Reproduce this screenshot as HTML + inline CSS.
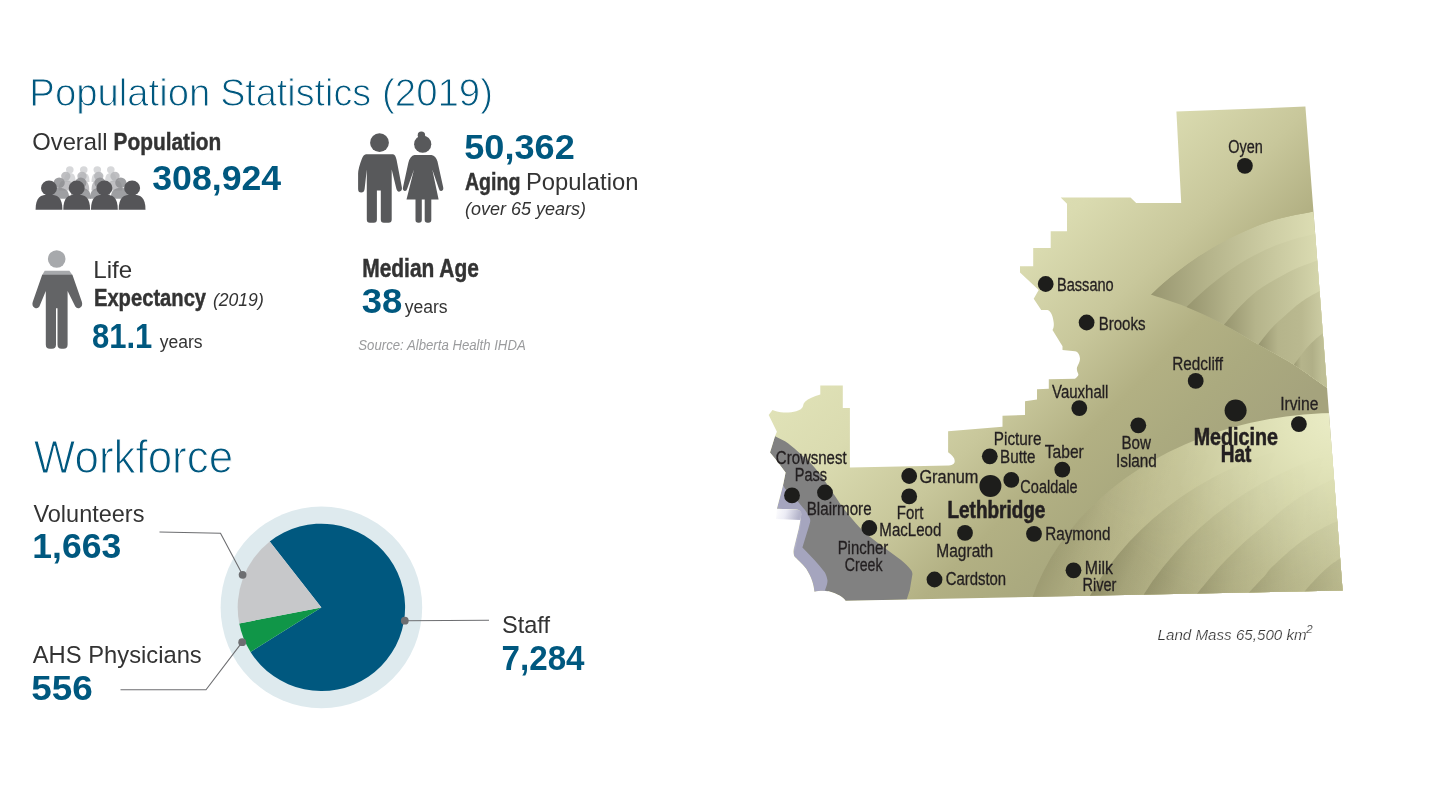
<!DOCTYPE html>
<html lang="en"><head><meta charset="utf-8"><title>South Zone - Population Statistics</title>
<style>
html,body{margin:0;padding:0;background:#fff;}
body{width:1440px;height:801px;overflow:hidden;font-family:"Liberation Sans",sans-serif;}
svg{display:block;position:absolute;left:0;top:0;}
text{font-family:"Liberation Sans",sans-serif;}
.lt{fill:#00587f;stroke:#fff;stroke-width:1px;}
.lt2{stroke-width:1.2px;}
.b{font-weight:bold;}
.i{font-style:italic;}
.num{font-weight:bold;fill:#00587f;}
.g{fill:#333333;}
.hv{stroke:#333;stroke-width:.45px;}
.src{fill:#9a9b9d;}
.map text{fill:#231f20;}
</style></head><body>
<svg width="1440" height="801" viewBox="0 0 1440 801">
<text x="29.36" y="106.3" font-size="39.5" class="lt" textLength="180.93" lengthAdjust="spacingAndGlyphs">Population</text>
<text x="220.19" y="106.3" font-size="39.5" class="lt" textLength="150.98" lengthAdjust="spacingAndGlyphs">Statistics</text>
<text x="382.02" y="106.3" font-size="39.5" class="lt" textLength="110.96" lengthAdjust="spacingAndGlyphs">(2019)</text>
<text x="32.27" y="150.1" font-size="24.5" class="g" textLength="75.32" lengthAdjust="spacingAndGlyphs">Overall</text>
<text x="113.61" y="150.1" font-size="24.8" class="g b hv" textLength="107.69" lengthAdjust="spacingAndGlyphs">Population</text>
<text x="152.28" y="190.3" font-size="35" class="num" textLength="128.91" lengthAdjust="spacingAndGlyphs">308,924</text>
<text x="464.29" y="159.3" font-size="35" class="num" textLength="110.46" lengthAdjust="spacingAndGlyphs">50,362</text>
<text x="464.91" y="190.3" font-size="24.8" class="g b hv" textLength="55.60" lengthAdjust="spacingAndGlyphs">Aging</text>
<text x="525.95" y="190.3" font-size="24.5" class="g" textLength="112.50" lengthAdjust="spacingAndGlyphs">Population</text>
<text x="464.96" y="214.5" font-size="18.3" class="g i" textLength="121.02" lengthAdjust="spacingAndGlyphs">(over 65 years)</text>
<text x="93.32" y="278.3" font-size="24.5" class="g" textLength="38.96" lengthAdjust="spacingAndGlyphs">Life</text>
<text x="93.95" y="306" font-size="24.8" class="g b hv" textLength="112.16" lengthAdjust="spacingAndGlyphs">Expectancy</text>
<text x="212.88" y="305.9" font-size="17.8" class="g i" textLength="50.87" lengthAdjust="spacingAndGlyphs">(2019)</text>
<text x="92.02" y="347.5" font-size="35" class="num" textLength="60.35" lengthAdjust="spacingAndGlyphs">81.1</text>
<text x="159.76" y="347.5" font-size="18.3" class="g" textLength="42.88" lengthAdjust="spacingAndGlyphs">years</text>
<text x="362.20" y="276.7" font-size="25" class="g b hv" textLength="116.72" lengthAdjust="spacingAndGlyphs">Median Age</text>
<text x="361.66" y="313" font-size="35" class="num" textLength="40.56" lengthAdjust="spacingAndGlyphs">38</text>
<text x="404.66" y="313" font-size="18.3" class="g" textLength="42.98" lengthAdjust="spacingAndGlyphs">years</text>
<text x="358.33" y="349.5" font-size="14.7" class="i src" textLength="167.38" lengthAdjust="spacingAndGlyphs">Source: Alberta Health IHDA</text>
<text x="33.81" y="472.8" font-size="46.3" class="lt lt2" textLength="199.34" lengthAdjust="spacingAndGlyphs">Workforce</text>
<text x="33.40" y="521.8" font-size="24.5" class="g" textLength="111.05" lengthAdjust="spacingAndGlyphs">Volunteers</text>
<text x="32.36" y="557.7" font-size="35" class="num" textLength="88.92" lengthAdjust="spacingAndGlyphs">1,663</text>
<text x="32.75" y="662.9" font-size="24.5" class="g" textLength="169.00" lengthAdjust="spacingAndGlyphs">AHS Physicians</text>
<text x="31.26" y="699.5" font-size="35" class="num" textLength="61.57" lengthAdjust="spacingAndGlyphs">556</text>
<text x="501.93" y="633.1" font-size="24.5" class="g" textLength="48.04" lengthAdjust="spacingAndGlyphs">Staff</text>
<text x="501.57" y="670.3" font-size="35" class="num" textLength="83.00" lengthAdjust="spacingAndGlyphs">7,284</text>
<circle cx="321.4" cy="607.4" r="100.8" fill="#deeaee"/>
<path d="M321.40,607.40 L269.75,541.53 A83.7,83.7 0 1 1 250.54,651.95 Z" fill="#00587f"/>
<path d="M321.40,607.40 L250.54,651.95 A83.7,83.7 0 0 1 239.27,623.51 Z" fill="#109648"/>
<path d="M321.40,607.40 L239.27,623.51 A83.7,83.7 0 0 1 269.75,541.53 Z" fill="#c7c8ca"/>
<g fill="none" stroke="#6d6e71" stroke-width="1.1"><path d="M159.5,532 L220.5,533.2 L242.6,574.8"/><path d="M120.5,689.8 L206,689.8 L242.2,642.2"/><path d="M404.8,620.7 L489,620.3"/></g>
<g fill="#6d6e71"><circle cx="242.6" cy="574.8" r="3.9"/><circle cx="242.2" cy="642.2" r="3.9"/><circle cx="404.8" cy="620.7" r="3.9"/></g>
<g fill="#58595b"><circle cx="379.5" cy="142.7" r="9.4"/><path d="M366,154.2 H393 Q395.5,154.5 396.6,160 L401.9,187.5 Q402.3,191 399.6,191.6 Q397,192 396.3,188.5 L391.7,169.6 V219.5 Q391.7,222.8 388.6,222.8 H383.9 Q380.8,222.8 380.8,219.5 V190.5 H376.9 V219.5 Q376.9,222.8 373.8,222.8 H369.9 Q366.8,222.8 366.8,219.5 V169.6 L364.6,189 Q364.2,192.6 361.2,192.6 Q358.1,192.6 358.1,189 V173.5 Q358.3,168 361.8,159 Q363.5,154.5 366,154.2 Z"/><circle cx="422.7" cy="144.2" r="8.6"/><circle cx="421.4" cy="135.3" r="3.7"/><path d="M414.5,155.1 H431.5 Q435.8,156 437.5,161.5 L443.2,187.3 Q443.8,190.6 441.4,191 Q439.4,191.3 438.9,188.8 L432.3,169.5 L438.6,199.5 H431.3 V220 Q431.3,222.8 428.5,222.8 H427.5 Q424.7,222.8 424.7,220 V199.5 H421.8 V220 Q421.8,222.8 419,222.8 H418.3 Q415.5,222.8 415.5,220 V199.5 H406.5 L414,169.5 L407.2,188.8 Q406.6,191.3 404.6,191 Q402.4,190.6 403,187.3 L408.3,163 Q410,156 414.5,155.1 Z"/></g>
<circle cx="56.7" cy="259" r="8.8" fill="#a7a9ac"/><path d="M44.7,270.7 H69.4 L72.4,274.9 H42.2 Z" fill="#a7a9ac"/><path d="M42.2,274.8 H72.4 L81.9,302 Q83,306 80,307.8 Q77,309.3 75.3,306.5 L67.6,290.9 V344.5 Q67.6,348.8 63.5,348.8 H61.5 Q57.5,348.8 57.5,344.5 V308.2 H56 V344.5 Q56,348.8 52,348.8 H49.8 Q45.8,348.8 45.8,344.5 V290.9 L39.4,306.5 Q37.6,309.3 34.6,307.8 Q31.6,306 32.7,302 Z" fill="#636466"/>
<g fill="#d3d4d6" opacity="0.9"><ellipse cx="69.80" cy="169.80" rx="3.80" ry="3.53"/><path d="M64.05,182.00 C64.05,174.80 66.12,173.00 69.80,173.00 C73.48,173.00 75.55,174.80 75.55,182.00 Z"/></g><g fill="#d3d4d6" opacity="0.9"><ellipse cx="83.75" cy="169.80" rx="3.80" ry="3.53"/><path d="M78.00,182.00 C78.00,174.80 80.07,173.00 83.75,173.00 C87.43,173.00 89.50,174.80 89.50,182.00 Z"/></g><g fill="#d3d4d6" opacity="0.9"><ellipse cx="97.30" cy="169.80" rx="3.80" ry="3.53"/><path d="M91.55,182.00 C91.55,174.80 93.62,173.00 97.30,173.00 C100.98,173.00 103.05,174.80 103.05,182.00 Z"/></g><g fill="#d3d4d6" opacity="0.9"><ellipse cx="110.80" cy="169.80" rx="3.80" ry="3.53"/><path d="M105.05,182.00 C105.05,174.80 107.12,173.00 110.80,173.00 C114.48,173.00 116.55,174.80 116.55,182.00 Z"/></g><g fill="#b4b5b8" opacity="0.85"><ellipse cx="65.80" cy="176.10" rx="4.70" ry="4.37"/><path d="M58.55,190.50 C58.55,182.34 61.16,180.30 65.80,180.30 C70.44,180.30 73.05,182.34 73.05,190.50 Z"/></g><g fill="#b4b5b8" opacity="0.85"><ellipse cx="82.00" cy="176.10" rx="4.70" ry="4.37"/><path d="M74.75,190.50 C74.75,182.34 77.36,180.30 82.00,180.30 C86.64,180.30 89.25,182.34 89.25,190.50 Z"/></g><g fill="#b4b5b8" opacity="0.85"><ellipse cx="98.75" cy="176.10" rx="4.70" ry="4.37"/><path d="M91.50,190.50 C91.50,182.34 94.11,180.30 98.75,180.30 C103.39,180.30 106.00,182.34 106.00,190.50 Z"/></g><g fill="#b4b5b8" opacity="0.85"><ellipse cx="115.00" cy="176.10" rx="4.70" ry="4.37"/><path d="M107.75,190.50 C107.75,182.34 110.36,180.30 115.00,180.30 C119.64,180.30 122.25,182.34 122.25,190.50 Z"/></g><g fill="#8e8f92" opacity="0.85"><ellipse cx="59.20" cy="182.80" rx="5.60" ry="5.21"/><path d="M49.20,198.80 C49.20,190.16 52.80,188.00 59.20,188.00 C65.60,188.00 69.20,190.16 69.20,198.80 Z"/></g><g fill="#8e8f92" opacity="0.85"><ellipse cx="80.80" cy="182.80" rx="5.60" ry="5.21"/><path d="M70.80,198.80 C70.80,190.16 74.40,188.00 80.80,188.00 C87.20,188.00 90.80,190.16 90.80,198.80 Z"/></g><g fill="#8e8f92" opacity="0.85"><ellipse cx="100.00" cy="182.80" rx="5.60" ry="5.21"/><path d="M90.00,198.80 C90.00,190.16 93.60,188.00 100.00,188.00 C106.40,188.00 110.00,190.16 110.00,198.80 Z"/></g><g fill="#8e8f92" opacity="0.85"><ellipse cx="120.80" cy="182.80" rx="5.60" ry="5.21"/><path d="M110.80,198.80 C110.80,190.16 114.40,188.00 120.80,188.00 C127.20,188.00 130.80,190.16 130.80,198.80 Z"/></g><g fill="#555558" opacity="1"><ellipse cx="49.00" cy="187.90" rx="8.00" ry="7.44"/><path d="M35.60,209.80 C35.60,197.64 40.42,194.60 49.00,194.60 C57.58,194.60 62.40,197.64 62.40,209.80 Z"/></g><g fill="#555558" opacity="1"><ellipse cx="76.70" cy="187.90" rx="8.00" ry="7.44"/><path d="M63.30,209.80 C63.30,197.64 68.12,194.60 76.70,194.60 C85.28,194.60 90.10,197.64 90.10,209.80 Z"/></g><g fill="#555558" opacity="1"><ellipse cx="104.40" cy="187.90" rx="8.00" ry="7.44"/><path d="M91.00,209.80 C91.00,197.64 95.82,194.60 104.40,194.60 C112.98,194.60 117.80,197.64 117.80,209.80 Z"/></g><g fill="#555558" opacity="1"><ellipse cx="132.10" cy="187.90" rx="8.00" ry="7.44"/><path d="M118.70,209.80 C118.70,197.64 123.52,194.60 132.10,194.60 C140.68,194.60 145.50,197.64 145.50,209.80 Z"/></g>
<defs>
<clipPath id="mc"><path d="M1176.4,111.6 L1305.4,106.6 L1342.6,590.6 L845.6,600.8 C843,597 838,594 828.7,591.3 C823,590.3 818,590.8 814.4,591.8 C813.8,585 812,578 806.2,568.7 C802,563 796,558.5 794.3,556.2 C793.3,553 793.5,551 793.7,548.7 L798.7,528.7 C799.8,523 800.8,517.5 801.2,514 C800.8,511 799,509.6 796,509.5 L776.9,508.7 L783.1,485 L785.6,472.5 L776.2,460 L770,452.4 L775,436.2 L776.9,431.8 L768.7,415 L772.5,410 C776,411.5 780,412.4 783.7,412.5 C789,412.6 793,412.2 796.2,411.2 C800,410 802.3,408.5 803,406.2 C803.4,404 804,403 805,401.8 C808.5,398.5 813.5,396.2 820.3,394.4 L820.3,385.6 L842.8,385.6 L842.8,408.1 L849.9,408.1 L849.9,467.6 L949,465.4 C953,465.1 954.7,463.5 954.7,461 C954.7,458 952.5,455.5 948.1,452.2 L948.1,431.2 L1002.5,426.8 L1002.5,415.8 L1025,415 L1025,401.2 L1037,399.5 L1037,389.2 L1048.8,388.7 L1048.8,379.2 L1075,378.7 C1078,376.5 1078.8,375 1078.2,373.7 C1077,371.5 1076.6,369.5 1077,367.5 C1078,364.5 1080,362 1080,358.7 C1079.8,354.5 1078,351.8 1075,351.2 L1062.5,350 L1062.5,346.2 L1052.5,330 C1053.8,328 1054,325 1053.7,322.5 C1053,316 1051,311 1047.5,310 L1041.2,310 L1033.7,298.7 L1038.7,290 L1020,272.5 L1020,266.2 L1033.2,266.2 L1033.2,248 L1050.7,248 L1050.7,231.2 L1067,231.2 L1067,203.7 L1060.7,197.5 L1130.5,197.5 L1136.2,203 L1181.2,203 Z"/></clipPath>
<clipPath id="uc"><path d="M1150.8,294.5 C1153.6,291.9 1160.3,285.2 1167.8,279.2 C1175.3,273.2 1186.3,264.6 1195.6,258.3 C1204.8,252.1 1214.0,246.7 1223.3,241.7 C1232.5,236.7 1241.8,232.3 1251.1,228.5 C1260.4,224.7 1268.7,221.5 1278.9,218.8 C1289.1,216.0 1303.7,213.5 1312.2,211.8 C1320.7,210.1 1327.0,209.3 1330.0,208.8 L1345,401 C1342.0,398.8 1335.3,393.7 1326.8,387.6 C1318.3,381.6 1305.3,371.9 1293.9,364.7 C1282.5,357.5 1270.0,351.3 1258.3,344.6 C1246.6,337.9 1236.0,331.0 1224.0,324.7 C1212.0,318.4 1198.7,312.0 1186.5,307.0 C1174.3,302.0 1156.8,296.6 1150.8,294.5 Z"/></clipPath>
<linearGradient id="bg" gradientUnits="userSpaceOnUse" x1="800" y1="380" x2="1062.5" y2="642.5"><stop offset="0" stop-color="#e0e2b7"/><stop offset=".2" stop-color="#dadbb0"/><stop offset=".45" stop-color="#c8c79b"/><stop offset=".65" stop-color="#b2b083"/><stop offset=".8" stop-color="#abaa7f"/><stop offset="1" stop-color="#a5a37d"/></linearGradient>
<linearGradient id="ug1" gradientUnits="userSpaceOnUse" x1="1146.8" y1="0" x2="1322.0" y2="0"><stop offset="0" stop-color="#96946e"/><stop offset=".35" stop-color="#b5b48b"/><stop offset=".7" stop-color="#cdcda4"/><stop offset="1" stop-color="#dedfb5"/></linearGradient>
<linearGradient id="ug2" gradientUnits="userSpaceOnUse" x1="1182.5" y1="0" x2="1322.0" y2="0"><stop offset="0" stop-color="#94926c"/><stop offset=".35" stop-color="#b5b48b"/><stop offset=".7" stop-color="#cbcba2"/><stop offset="1" stop-color="#dcddb3"/></linearGradient>
<linearGradient id="ug3" gradientUnits="userSpaceOnUse" x1="1220.0" y1="0" x2="1322.0" y2="0"><stop offset="0" stop-color="#93916b"/><stop offset=".35" stop-color="#b5b48b"/><stop offset=".7" stop-color="#c5c59c"/><stop offset="1" stop-color="#d6d7ad"/></linearGradient>
<linearGradient id="ug4" gradientUnits="userSpaceOnUse" x1="1254.3" y1="0" x2="1322.0" y2="0"><stop offset="0" stop-color="#908e69"/><stop offset=".35" stop-color="#b5b48b"/><stop offset=".7" stop-color="#bab990"/><stop offset="1" stop-color="#cbcba2"/></linearGradient>
<linearGradient id="ug5" gradientUnits="userSpaceOnUse" x1="1289.9" y1="0" x2="1322.0" y2="0"><stop offset="0" stop-color="#8d8b66"/><stop offset=".35" stop-color="#b5b48b"/><stop offset=".7" stop-color="#b0af87"/><stop offset="1" stop-color="#bfbf96"/></linearGradient>
<radialGradient id="lbase" gradientUnits="userSpaceOnUse" cx="1335" cy="415" r="320"><stop offset="0" stop-color="#eaecc6"/><stop offset=".16" stop-color="#e2e4ba"/><stop offset=".33" stop-color="#d6d7ac"/><stop offset=".53" stop-color="#c8c79a"/><stop offset=".73" stop-color="#c1bf92"/><stop offset="1" stop-color="#bab88b"/></radialGradient>
<linearGradient id="lg1" gradientUnits="userSpaceOnUse" x1="1032.0" y1="595.9" x2="1214.4" y2="678.0"><stop offset="0" stop-color="#3c3a1e" stop-opacity="0.22"/><stop offset=".14" stop-color="#3c3a1e" stop-opacity="0.12"/><stop offset=".36" stop-color="#3c3a1e" stop-opacity="0.04"/><stop offset=".6" stop-color="#3c3a1e" stop-opacity="0"/></linearGradient>
<linearGradient id="lg2" gradientUnits="userSpaceOnUse" x1="1088.7" y1="595.1" x2="1271.1" y2="677.2"><stop offset="0" stop-color="#3c3a1e" stop-opacity="0.34"/><stop offset=".14" stop-color="#3c3a1e" stop-opacity="0.19"/><stop offset=".36" stop-color="#3c3a1e" stop-opacity="0.06"/><stop offset=".6" stop-color="#3c3a1e" stop-opacity="0"/></linearGradient>
<linearGradient id="lg3" gradientUnits="userSpaceOnUse" x1="1142.5" y1="595.1" x2="1324.9" y2="677.2"><stop offset="0" stop-color="#3c3a1e" stop-opacity="0.32"/><stop offset=".14" stop-color="#3c3a1e" stop-opacity="0.18"/><stop offset=".36" stop-color="#3c3a1e" stop-opacity="0.06"/><stop offset=".6" stop-color="#3c3a1e" stop-opacity="0"/></linearGradient>
<linearGradient id="lg4" gradientUnits="userSpaceOnUse" x1="1196.5" y1="594.4" x2="1378.9" y2="676.5"><stop offset="0" stop-color="#3c3a1e" stop-opacity="0.30"/><stop offset=".14" stop-color="#3c3a1e" stop-opacity="0.17"/><stop offset=".36" stop-color="#3c3a1e" stop-opacity="0.05"/><stop offset=".6" stop-color="#3c3a1e" stop-opacity="0"/></linearGradient>
<linearGradient id="lg5" gradientUnits="userSpaceOnUse" x1="1248.9" y1="592.7" x2="1431.3" y2="674.8"><stop offset="0" stop-color="#3c3a1e" stop-opacity="0.30"/><stop offset=".14" stop-color="#3c3a1e" stop-opacity="0.17"/><stop offset=".36" stop-color="#3c3a1e" stop-opacity="0.05"/><stop offset=".6" stop-color="#3c3a1e" stop-opacity="0"/></linearGradient>
<linearGradient id="lg6" gradientUnits="userSpaceOnUse" x1="1304.0" y1="592.4" x2="1486.4" y2="674.5"><stop offset="0" stop-color="#3c3a1e" stop-opacity="0.28"/><stop offset=".14" stop-color="#3c3a1e" stop-opacity="0.15"/><stop offset=".36" stop-color="#3c3a1e" stop-opacity="0.05"/><stop offset=".6" stop-color="#3c3a1e" stop-opacity="0"/></linearGradient>
<linearGradient id="lav" gradientUnits="userSpaceOnUse" x1="776" y1="505" x2="800" y2="512"><stop offset="0" stop-color="#ffffff"/><stop offset=".45" stop-color="#ececf5"/><stop offset="1" stop-color="#b4b4ca"/></linearGradient>
<radialGradient id="rmg" gradientUnits="userSpaceOnUse" cx="1335" cy="330" r="300"><stop offset="0" stop-color="#000"/><stop offset=".35" stop-color="#000"/><stop offset="1" stop-color="#fff"/></radialGradient>
<mask id="rimmask" maskUnits="userSpaceOnUse" x="1000" y="380" width="400" height="280"><rect x="1000" y="380" width="400" height="280" fill="url(#rmg)"/></mask>
<filter id="gb" x="-20%" y="-20%" width="140%" height="140%"><feGaussianBlur stdDeviation="1.6"/></filter>
<filter id="gb2" x="-20%" y="-30%" width="140%" height="160%"><feGaussianBlur stdDeviation="0.7"/></filter>
</defs>
<g class="map">
<g clip-path="url(#mc)">
<rect x="760" y="100" width="600" height="510" fill="url(#bg)"/>
<g clip-path="url(#uc)">
<path d="M1150.8,294.5 C1153.6,291.9 1160.3,285.2 1167.8,279.2 C1175.3,273.2 1186.3,264.6 1195.6,258.3 C1204.8,252.1 1214.0,246.7 1223.3,241.7 C1232.5,236.7 1241.8,232.3 1251.1,228.5 C1260.4,224.7 1268.7,221.5 1278.9,218.8 C1289.1,216.0 1303.7,213.5 1312.2,211.8 C1320.7,210.1 1327.0,209.3 1330.0,208.8 L1400,208.8 L1400,450 L1150.8,450 Z" fill="url(#ug1)"/>
<path d="M1186.5,307.0 C1190.3,303.5 1201.0,293.1 1209.4,286.1 C1217.9,279.2 1227.9,271.3 1237.2,265.3 C1246.5,259.3 1255.7,254.3 1265.0,250.0 C1274.3,245.7 1284.6,242.3 1292.8,239.6 C1301.0,236.9 1307.8,235.6 1314.3,234.0 C1320.8,232.4 1329.0,230.7 1332.0,230.0 L1400,230.0 L1400,450 L1186.5,450 Z" fill="url(#ug2)"/>
<path d="M1224.0,324.7 C1226.2,322.2 1232.7,314.3 1237.2,309.5 C1241.7,304.7 1246.5,300.0 1251.1,296.0 C1255.7,292.0 1258.0,289.8 1265.0,285.5 C1272.0,281.2 1284.3,274.2 1292.8,270.1 C1301.2,266.0 1308.8,263.6 1315.7,261.1 C1322.6,258.6 1331.0,256.0 1334.0,255.0 L1400,255.0 L1400,450 L1224.0,450 Z" fill="url(#ug3)"/>
<path d="M1258.3,344.6 C1260.6,341.8 1266.2,333.9 1271.9,327.9 C1277.7,321.9 1287.0,313.6 1292.8,308.7 C1298.6,303.8 1302.3,301.2 1306.7,298.3 C1311.1,295.4 1314.0,293.9 1318.9,291.4 C1323.8,288.8 1333.2,284.4 1336.0,283.0 L1400,283.0 L1400,450 L1258.3,450 Z" fill="url(#ug4)"/>
<path d="M1293.9,364.7 C1296.0,361.9 1303.2,352.3 1306.7,348.1 C1310.2,343.9 1312.3,342.1 1315.0,339.7 C1317.7,337.3 1318.8,336.4 1322.6,333.5 C1326.4,330.6 1335.4,323.9 1338.0,322.0 L1400,322.0 L1400,450 L1293.9,450 Z" fill="url(#ug5)"/>
</g>
<path d="M1063.0,792.8 L1054.4,780.2 L1046.7,767.2 L1040.0,753.8 L1034.3,740.2 L1029.5,726.4 L1025.7,712.3 L1022.9,698.1 L1021.1,683.8 L1020.4,669.5 L1020.7,655.1 L1021.9,640.8 L1024.3,626.6 L1027.6,612.4 L1031.9,598.5 L1037.2,584.8 L1043.5,571.3 L1050.7,558.1 L1058.9,545.3 L1068.0,532.9 L1077.9,520.9 L1088.7,509.4 L1100.2,498.4 L1112.6,487.9 L1125.6,478.0 L1139.4,468.7 L1153.8,460.0 L1168.7,452.0 L1184.3,444.7 L1200.3,438.1 L1216.8,432.2 L1233.6,427.1 L1250.8,422.7 L1268.3,419.2 L1286.0,416.4 L1303.9,414.4 L1321.9,413.3 L1339.9,412.9 L1357.9,413.4 L1375.9,414.7 L1393.8,416.8 L1400,416.8 L1400,700 L1063.0,700 Z" fill="url(#lbase)"/>
<path d="M1063.0,792.8 L1054.4,780.2 L1046.7,767.2 L1040.0,753.8 L1034.3,740.2 L1029.5,726.4 L1025.7,712.3 L1022.9,698.1 L1021.1,683.8 L1020.4,669.5 L1020.7,655.1 L1021.9,640.8 L1024.3,626.6 L1027.6,612.4 L1031.9,598.5 L1037.2,584.8 L1043.5,571.3 L1050.7,558.1 L1058.9,545.3 L1068.0,532.9 L1077.9,520.9 L1088.7,509.4 L1100.2,498.4 L1112.6,487.9 L1125.6,478.0 L1139.4,468.7 L1153.8,460.0 L1168.7,452.0 L1184.3,444.7 L1200.3,438.1 L1216.8,432.2 L1233.6,427.1 L1250.8,422.7 L1268.3,419.2 L1286.0,416.4 L1303.9,414.4 L1321.9,413.3 L1339.9,412.9 L1357.9,413.4 L1375.9,414.7 L1393.8,416.8 L1400,416.8 L1400,700 L1063.0,700 Z" fill="url(#lg1)" mask="url(#rimmask)"/>
<path d="M1102.2,858.7 L1093.3,844.5 L1085.3,830.0 L1078.3,815.1 L1072.3,799.9 L1067.3,784.4 L1063.4,768.7 L1060.5,752.9 L1058.6,736.9 L1057.9,720.9 L1058.1,704.8 L1059.5,688.8 L1061.9,672.9 L1065.4,657.1 L1069.9,641.6 L1075.4,626.2 L1082.0,611.2 L1089.5,596.5 L1098.0,582.2 L1107.4,568.3 L1117.8,554.9 L1129.0,542.0 L1141.1,529.7 L1153.9,518.0 L1167.5,506.9 L1181.8,496.5 L1196.8,486.8 L1212.4,477.9 L1228.6,469.7 L1245.3,462.3 L1262.5,455.7 L1280.0,450.0 L1298.0,445.2 L1316.2,441.2 L1334.6,438.1 L1353.2,435.9 L1372.0,434.6 L1390.8,434.2 L1409.6,434.7 L1428.3,436.2 L1446.9,438.5 L1400,438.5 L1400,700 L1102.2,700 Z" fill="url(#lbase)"/>
<path d="M1102.2,858.7 L1093.3,844.5 L1085.3,830.0 L1078.3,815.1 L1072.3,799.9 L1067.3,784.4 L1063.4,768.7 L1060.5,752.9 L1058.6,736.9 L1057.9,720.9 L1058.1,704.8 L1059.5,688.8 L1061.9,672.9 L1065.4,657.1 L1069.9,641.6 L1075.4,626.2 L1082.0,611.2 L1089.5,596.5 L1098.0,582.2 L1107.4,568.3 L1117.8,554.9 L1129.0,542.0 L1141.1,529.7 L1153.9,518.0 L1167.5,506.9 L1181.8,496.5 L1196.8,486.8 L1212.4,477.9 L1228.6,469.7 L1245.3,462.3 L1262.5,455.7 L1280.0,450.0 L1298.0,445.2 L1316.2,441.2 L1334.6,438.1 L1353.2,435.9 L1372.0,434.6 L1390.8,434.2 L1409.6,434.7 L1428.3,436.2 L1446.9,438.5 L1400,438.5 L1400,700 L1102.2,700 Z" fill="url(#lg2)" mask="url(#rimmask)"/>
<path d="M1146.5,899.4 L1137.1,884.0 L1128.7,868.1 L1121.4,851.8 L1115.1,835.2 L1109.9,818.3 L1105.8,801.2 L1102.7,783.8 L1100.8,766.4 L1100.0,748.9 L1100.3,731.3 L1101.7,713.8 L1104.2,696.5 L1107.8,679.2 L1112.6,662.2 L1118.4,645.4 L1125.2,629.0 L1133.1,612.9 L1142.0,597.3 L1151.9,582.1 L1162.8,567.5 L1174.5,553.4 L1187.1,540.0 L1200.6,527.2 L1214.9,515.1 L1229.9,503.7 L1245.6,493.1 L1261.9,483.4 L1278.9,474.4 L1296.4,466.4 L1314.3,459.2 L1332.7,453.0 L1351.5,447.6 L1370.6,443.3 L1389.9,439.9 L1409.4,437.5 L1429.1,436.1 L1448.8,435.7 L1468.5,436.3 L1488.1,437.8 L1507.6,440.4 L1400,440.4 L1400,700 L1146.5,700 Z" fill="url(#lbase)"/>
<path d="M1146.5,899.4 L1137.1,884.0 L1128.7,868.1 L1121.4,851.8 L1115.1,835.2 L1109.9,818.3 L1105.8,801.2 L1102.7,783.8 L1100.8,766.4 L1100.0,748.9 L1100.3,731.3 L1101.7,713.8 L1104.2,696.5 L1107.8,679.2 L1112.6,662.2 L1118.4,645.4 L1125.2,629.0 L1133.1,612.9 L1142.0,597.3 L1151.9,582.1 L1162.8,567.5 L1174.5,553.4 L1187.1,540.0 L1200.6,527.2 L1214.9,515.1 L1229.9,503.7 L1245.6,493.1 L1261.9,483.4 L1278.9,474.4 L1296.4,466.4 L1314.3,459.2 L1332.7,453.0 L1351.5,447.6 L1370.6,443.3 L1389.9,439.9 L1409.4,437.5 L1429.1,436.1 L1448.8,435.7 L1468.5,436.3 L1488.1,437.8 L1507.6,440.4 L1400,440.4 L1400,700 L1146.5,700 Z" fill="url(#lg3)" mask="url(#rimmask)"/>
<path d="M1193.0,600.5 C1193.6,599.5 1194.5,597.2 1196.5,594.4 C1198.5,591.6 1201.9,587.6 1205.0,583.9 C1208.1,580.1 1211.7,575.7 1215.0,571.9 C1218.3,568.1 1221.7,564.5 1225.0,561.0 C1228.3,557.5 1231.7,554.2 1235.0,551.0 C1238.3,547.8 1241.7,544.5 1245.0,541.5 C1248.3,538.5 1251.7,535.8 1255.0,533.0 C1258.3,530.2 1262.5,527.1 1265.0,525.0 C1267.5,522.9 1265.8,524.0 1270.0,520.5 C1274.2,517.0 1283.3,508.9 1290.0,504.0 C1296.7,499.1 1303.3,494.9 1310.0,491.0 C1316.7,487.1 1326.0,482.6 1330.0,480.5 C1334.0,478.4 1330.7,480.1 1334.0,478.5 C1337.3,476.9 1347.3,472.2 1350.0,471.0 L1400,471.0 L1400,650 L1193.0,650 Z" fill="url(#lbase)"/>
<path d="M1193.0,600.5 C1193.6,599.5 1194.5,597.2 1196.5,594.4 C1198.5,591.6 1201.9,587.6 1205.0,583.9 C1208.1,580.1 1211.7,575.7 1215.0,571.9 C1218.3,568.1 1221.7,564.5 1225.0,561.0 C1228.3,557.5 1231.7,554.2 1235.0,551.0 C1238.3,547.8 1241.7,544.5 1245.0,541.5 C1248.3,538.5 1251.7,535.8 1255.0,533.0 C1258.3,530.2 1262.5,527.1 1265.0,525.0 C1267.5,522.9 1265.8,524.0 1270.0,520.5 C1274.2,517.0 1283.3,508.9 1290.0,504.0 C1296.7,499.1 1303.3,494.9 1310.0,491.0 C1316.7,487.1 1326.0,482.6 1330.0,480.5 C1334.0,478.4 1330.7,480.1 1334.0,478.5 C1337.3,476.9 1347.3,472.2 1350.0,471.0 L1400,471.0 L1400,650 L1193.0,650 Z" fill="url(#lg4)" mask="url(#rimmask)"/>
<path d="M1245.0,599.0 C1245.7,598.0 1246.9,595.2 1248.9,592.7 C1250.9,590.2 1254.2,586.8 1256.9,583.9 C1259.6,581.0 1262.8,577.9 1265.0,575.4 C1267.2,572.9 1267.5,571.6 1270.0,569.0 C1272.5,566.4 1276.7,562.6 1280.0,559.5 C1283.3,556.4 1286.7,553.3 1290.0,550.5 C1293.3,547.7 1296.7,545.0 1300.0,542.5 C1303.3,540.0 1306.7,537.7 1310.0,535.5 C1313.3,533.3 1316.7,531.3 1320.0,529.5 C1323.3,527.7 1327.0,525.9 1330.0,524.5 C1333.0,523.1 1334.3,522.6 1338.0,521.0 C1341.7,519.4 1349.7,516.0 1352.0,515.0 L1400,515.0 L1400,650 L1245.0,650 Z" fill="url(#lbase)"/>
<path d="M1245.0,599.0 C1245.7,598.0 1246.9,595.2 1248.9,592.7 C1250.9,590.2 1254.2,586.8 1256.9,583.9 C1259.6,581.0 1262.8,577.9 1265.0,575.4 C1267.2,572.9 1267.5,571.6 1270.0,569.0 C1272.5,566.4 1276.7,562.6 1280.0,559.5 C1283.3,556.4 1286.7,553.3 1290.0,550.5 C1293.3,547.7 1296.7,545.0 1300.0,542.5 C1303.3,540.0 1306.7,537.7 1310.0,535.5 C1313.3,533.3 1316.7,531.3 1320.0,529.5 C1323.3,527.7 1327.0,525.9 1330.0,524.5 C1333.0,523.1 1334.3,522.6 1338.0,521.0 C1341.7,519.4 1349.7,516.0 1352.0,515.0 L1400,515.0 L1400,650 L1245.0,650 Z" fill="url(#lg5)" mask="url(#rimmask)"/>
<path d="M1300.0,598.0 C1300.7,597.1 1302.3,594.6 1304.0,592.4 C1305.7,590.2 1307.3,588.0 1310.0,585.0 C1312.7,582.0 1316.7,577.7 1320.0,574.4 C1323.3,571.1 1326.7,568.1 1330.0,565.4 C1333.3,562.7 1336.3,560.8 1340.0,558.4 C1343.7,556.0 1350.0,552.2 1352.0,551.0 L1400,551.0 L1400,650 L1300.0,650 Z" fill="url(#lbase)"/>
<path d="M1300.0,598.0 C1300.7,597.1 1302.3,594.6 1304.0,592.4 C1305.7,590.2 1307.3,588.0 1310.0,585.0 C1312.7,582.0 1316.7,577.7 1320.0,574.4 C1323.3,571.1 1326.7,568.1 1330.0,565.4 C1333.3,562.7 1336.3,560.8 1340.0,558.4 C1343.7,556.0 1350.0,552.2 1352.0,551.0 L1400,551.0 L1400,650 L1300.0,650 Z" fill="url(#lg6)" mask="url(#rimmask)"/>
<path d="M783.1,485 L776.9,508.7 L796,509.5 C799,509.6 800.8,511 801.2,514 C800.8,517.5 799.8,523 798.7,528.7 L793.7,548.7 C793.5,551 793.3,553 794.3,556.2 C796,558.5 802,563 806.2,568.7 C812,578 813.8,585 814.4,591.8 L828,592 L830,560 L815,500 L790,480 Z" fill="#a5a5be"/>
<path d="M775,436.2 L785,441.2 C789,443.8 793,447.2 797.5,451.2 L810,462.4 C814,466.5 817,470.3 818.7,472.4 C823,478 829,487 835,496 C840,504 846,512 853,520 C857,525 861,529 864.8,532.5 C870,537 876,541.5 882.3,546.2 L901,560 C905,563.3 908.5,566.8 911,570 C912.3,572 912.6,573.5 912.3,575 L909.8,590 L906.7,599.5 L845.6,600.8 C843,597 838,594 828.7,591.3 L824.9,590.5 C826.5,586 827.8,583 827.4,579.9 C827,577 826,574.5 824.9,572.4 C819,564.5 811,556.5 802.4,547.5 L809.3,525 C810.3,522 810.5,520.5 810,518.7 C808.5,515.5 807,512.8 805,510 C802.5,507 800.5,504.5 798.7,502.4 C795,498 790,492.5 785,488.7 L783.1,485 L785.6,472.5 L776.2,460 L770,452.4 Z" fill="#818181"/>
</g>
<path d="M774,515.5 L794,515.8 C796,516.2 796.5,517.5 796,519.5 L792,536 L789.5,549" fill="none" stroke="#fff" stroke-width="7" stroke-linejoin="round" filter="url(#gb)"/>
<path d="M776.9,508.9 L797,509.7 C800.5,510.2 801.8,512 801.6,514.5 L800.5,520 L776,519 Z" fill="url(#lav)" filter="url(#gb2)"/>
<g fill="#1d1d1b"><circle cx="1244.9" cy="165.8" r="7.9"/><circle cx="1045.7" cy="284" r="7.9"/><circle cx="1086.6" cy="322.5" r="7.9"/><circle cx="1195.7" cy="380.9" r="7.9"/><circle cx="1079.3" cy="408.1" r="7.9"/><circle cx="1235.6" cy="410.5" r="11"/><circle cx="1298.9" cy="424.1" r="7.9"/><circle cx="1138.3" cy="425.3" r="7.9"/><circle cx="989.8" cy="456.3" r="7.9"/><circle cx="1062.3" cy="469.7" r="7.9"/><circle cx="909.2" cy="476" r="7.9"/><circle cx="909.2" cy="496.4" r="7.9"/><circle cx="990.4" cy="485.9" r="11"/><circle cx="1011.3" cy="479.9" r="7.9"/><circle cx="792" cy="495.4" r="7.9"/><circle cx="825" cy="492.5" r="7.9"/><circle cx="869.3" cy="528" r="7.9"/><circle cx="965" cy="532.9" r="7.9"/><circle cx="1034" cy="533.8" r="7.9"/><circle cx="1073.5" cy="570.3" r="7.9"/><circle cx="934.5" cy="579.5" r="7.9"/></g>
<text x="1228.22" y="152.5" font-size="17.5" textLength="34.52" lengthAdjust="spacingAndGlyphs" stroke="#231f20" stroke-width=".3">Oyen</text>
<text x="1280.26" y="410.2" font-size="17.5" textLength="38.24" lengthAdjust="spacingAndGlyphs" stroke="#231f20" stroke-width=".3">Irvine</text>
<text x="1057.00" y="290.8" font-size="17.5" textLength="56.71" lengthAdjust="spacingAndGlyphs" stroke="#231f20" stroke-width=".3">Bassano</text>
<text x="1098.66" y="329.7" font-size="17.5" textLength="46.88" lengthAdjust="spacingAndGlyphs" stroke="#231f20" stroke-width=".3">Brooks</text>
<text x="1172.24" y="370.2" font-size="17.5" textLength="50.83" lengthAdjust="spacingAndGlyphs" stroke="#231f20" stroke-width=".3">Redcliff</text>
<text x="1052.03" y="397.6" font-size="17.5" textLength="56.37" lengthAdjust="spacingAndGlyphs" stroke="#231f20" stroke-width=".3">Vauxhall</text>
<text x="1121.46" y="449.4" font-size="17.5" textLength="29.51" lengthAdjust="spacingAndGlyphs" stroke="#231f20" stroke-width=".3">Bow</text>
<text x="1115.99" y="466.7" font-size="17.5" textLength="40.90" lengthAdjust="spacingAndGlyphs" stroke="#231f20" stroke-width=".3">Island</text>
<text x="993.85" y="445.3" font-size="17.5" textLength="47.53" lengthAdjust="spacingAndGlyphs" stroke="#231f20" stroke-width=".3">Picture</text>
<text x="1000.05" y="462.6" font-size="17.5" textLength="35.52" lengthAdjust="spacingAndGlyphs" stroke="#231f20" stroke-width=".3">Butte</text>
<text x="1044.75" y="458.3" font-size="18.6" textLength="39.01" lengthAdjust="spacingAndGlyphs" stroke="#231f20" stroke-width=".3">Taber</text>
<text x="1020.36" y="493.4" font-size="17.5" textLength="57.18" lengthAdjust="spacingAndGlyphs" stroke="#231f20" stroke-width=".3">Coaldale</text>
<text x="919.38" y="482.9" font-size="17.5" textLength="59.10" lengthAdjust="spacingAndGlyphs" stroke="#231f20" stroke-width=".3">Granum</text>
<text x="896.77" y="518.9" font-size="17.5" textLength="26.64" lengthAdjust="spacingAndGlyphs" stroke="#231f20" stroke-width=".3">Fort</text>
<text x="879.36" y="536.2" font-size="17.5" textLength="62.01" lengthAdjust="spacingAndGlyphs" stroke="#231f20" stroke-width=".3">MacLeod</text>
<text x="936.33" y="557.2" font-size="17.5" textLength="56.88" lengthAdjust="spacingAndGlyphs" stroke="#231f20" stroke-width=".3">Magrath</text>
<text x="1045.25" y="540.3" font-size="17.5" textLength="65.23" lengthAdjust="spacingAndGlyphs" stroke="#231f20" stroke-width=".3">Raymond</text>
<text x="945.64" y="585.2" font-size="17.5" textLength="60.53" lengthAdjust="spacingAndGlyphs" stroke="#231f20" stroke-width=".3">Cardston</text>
<text x="1084.70" y="574.4" font-size="17.5" textLength="28.18" lengthAdjust="spacingAndGlyphs" stroke="#231f20" stroke-width=".3">Milk</text>
<text x="1082.40" y="591.2" font-size="17.5" textLength="34.04" lengthAdjust="spacingAndGlyphs" stroke="#231f20" stroke-width=".3">River</text>
<text x="775.84" y="464.4" font-size="17.5" textLength="70.77" lengthAdjust="spacingAndGlyphs" stroke="#231f20" stroke-width=".3">Crowsnest</text>
<text x="794.81" y="480.8" font-size="17.5" textLength="32.21" lengthAdjust="spacingAndGlyphs" stroke="#231f20" stroke-width=".3">Pass</text>
<text x="806.76" y="515.1" font-size="17.5" textLength="64.82" lengthAdjust="spacingAndGlyphs" stroke="#231f20" stroke-width=".3">Blairmore</text>
<text x="837.68" y="554.3" font-size="17.5" textLength="50.47" lengthAdjust="spacingAndGlyphs" stroke="#231f20" stroke-width=".3">Pincher</text>
<text x="844.78" y="570.6" font-size="17.5" textLength="37.70" lengthAdjust="spacingAndGlyphs" stroke="#231f20" stroke-width=".3">Creek</text>
<text x="947.53" y="518.2" font-size="23" font-weight="bold" textLength="97.81" lengthAdjust="spacingAndGlyphs" stroke="#231f20" stroke-width=".6">Lethbridge</text>
<text x="1193.68" y="444.5" font-size="23.6" font-weight="bold" textLength="84.19" lengthAdjust="spacingAndGlyphs" stroke="#231f20" stroke-width=".6">Medicine</text>
<text x="1220.73" y="462.2" font-size="23.6" font-weight="bold" textLength="30.60" lengthAdjust="spacingAndGlyphs" stroke="#231f20" stroke-width=".6">Hat</text>
<text x="1157.53" y="640.2" font-size="14.8" font-style="italic" textLength="149.17" lengthAdjust="spacingAndGlyphs" style="fill:#333;stroke:#fff;stroke-width:.2px">Land Mass 65,500 km</text>
<text x="1306.3" y="633" font-size="11.5" font-style="italic" style="fill:#333;stroke:#fff;stroke-width:.15px">2</text>
</g>
</svg>
</body></html>
